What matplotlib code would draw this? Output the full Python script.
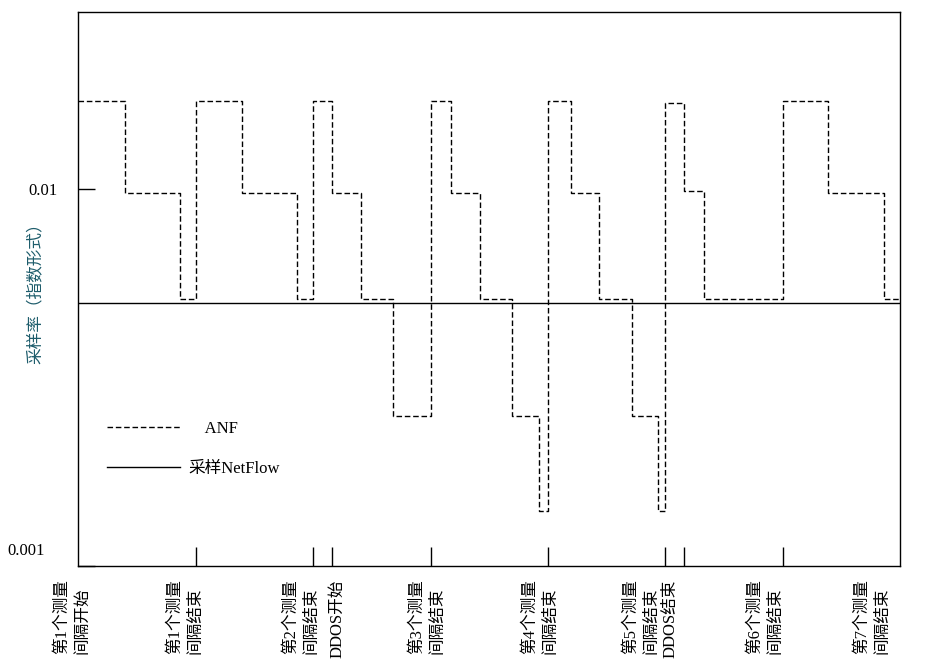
import numpy as np
import matplotlib
matplotlib.use("Agg")
import matplotlib.pyplot as plt
from matplotlib.lines import Line2D
from matplotlib.ticker import NullLocator

plt.rcParams['font.family'] = ['Liberation Serif', 'Noto Sans CJK SC']
plt.rcParams['lines.scale_dashes'] = False

# ANF sampling rate: step edges (in measurement intervals) and level per step
anf_edges = [0, 0.400, 0.869, 1.0, 1.397, 1.865, 2.0, 2.163, 2.410, 2.684, 3.0,
             3.176, 3.421, 3.696, 3.926, 4.0, 4.196, 4.437, 4.711, 4.939, 5.0,
             5.161, 5.331, 6.0, 6.387, 6.864, 7.0]
anf_vals = [0.0172, 0.0098, 0.0051,
            0.0172, 0.0098, 0.0051,
            0.0172, 0.0098, 0.0051, 0.0025,
            0.0172, 0.0098, 0.0051, 0.0025, 0.0014,
            0.0172, 0.0098, 0.0051, 0.0025, 0.0014,
            0.0169, 0.0099, 0.0051,
            0.0172, 0.0098, 0.0051]

# sampled NetFlow: constant rate
netflow_x = [0, 7]
netflow_y = [0.005, 0.005]

tick_x = [1.0, 2.0, 2.16, 3.0, 4.0, 5.0, 5.16, 6.0]
label_x = [-0.054, 0.909, 1.896, 2.203, 2.969, 3.932, 4.796, 5.043, 5.848, 6.759]
label_txt = ['第1个测量\n间隔开始', '第1个测量\n间隔结束', '第2个测量\n间隔结束', 'DDOS开始',
             '第3个测量\n间隔结束', '第4个测量\n间隔结束', '第5个测量\n间隔结束', 'DDOS结束',
             '第6个测量\n间隔结束', '第7个测量\n间隔结束']

fig = plt.figure(figsize=(9.32, 6.66), dpi=100)
ax = fig.add_axes([0.0840, 0.1502, 0.8820, 0.8322])

dash = (0, (4.0, 2.0))
ax.step(anf_edges, np.append(anf_vals, anf_vals[-1]), where='post',
        color='black', lw=1.0, linestyle=dash)
ax.plot(netflow_x, netflow_y, color='black', lw=1.0)

ax.set_yscale('log')
ax.set_xlim(0, 7)
ax.set_ylim(0.001, 0.0296)
ax.yaxis.set_minor_locator(NullLocator())
ax.set_yticks([0.001, 0.01])
ax.set_yticklabels(['', '0.01'], fontsize=12)
ax.annotate('0.001', (0, 0.001), xycoords=('axes fraction', 'data'),
            xytext=(-24, 11), textcoords='offset points', ha='right', va='center', fontsize=12)
ax.tick_params(axis='y', direction='in', length=12, width=1.0, pad=15)

ax.set_xticks(tick_x)
ax.set_xticklabels([])
ax.tick_params(axis='x', direction='in', length=13.5, width=1.0)
for x, t in zip(label_x, label_txt):
    ax.annotate(t, (x, 0), xycoords=('data', 'axes fraction'), xytext=(0, -9.5),
                textcoords='offset points', rotation=90, ha='center', va='top',
                multialignment='left', fontsize=12, linespacing=1.35)

for s in ax.spines.values():
    s.set_linewidth(1.0)

ax.set_ylabel('采样率（指数形式）', fontsize=12, color='#1d5c6b')
ax.yaxis.set_label_coords(-0.042, 0.5)

handles = [Line2D([], [], color='black', lw=1.0, linestyle=dash),
           Line2D([], [], color='black', lw=1.0)]
ax.legend(handles, ['    ANF', '采样NetFlow'], loc='center left',
          bbox_to_anchor=(0.035, 0.211), frameon=False, fontsize=12,
          handlelength=4.4, handletextpad=0.5, labelspacing=1.45,
          borderpad=0, borderaxespad=0)

fig.savefig('out.png', dpi=100)
